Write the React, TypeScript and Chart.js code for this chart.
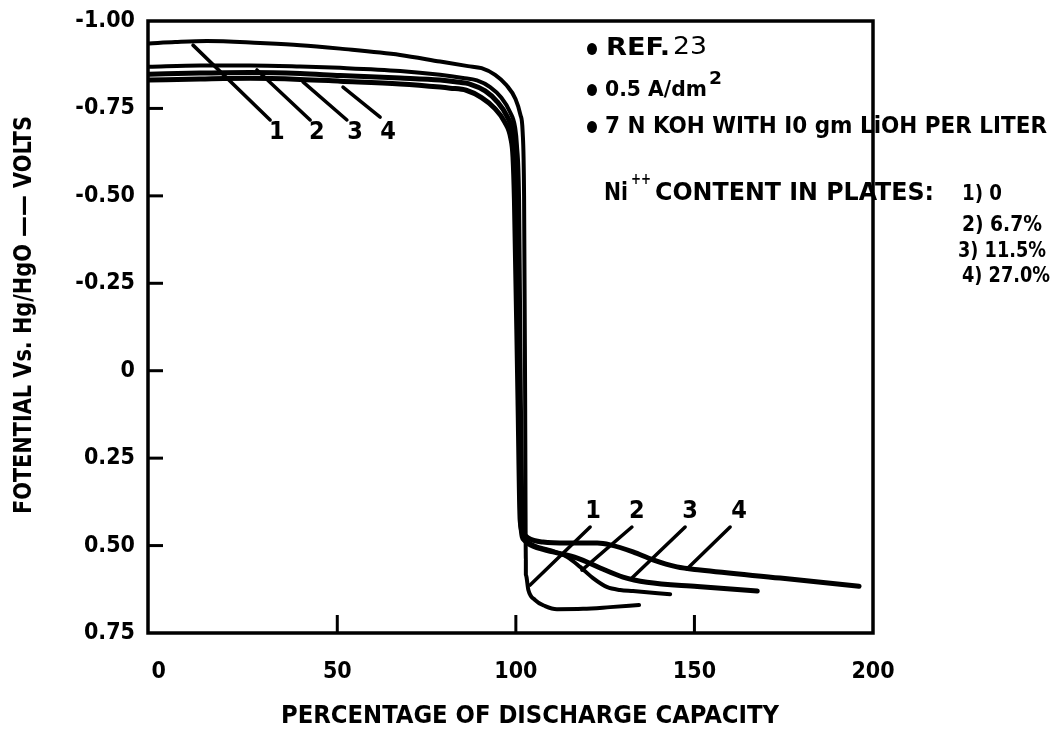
import React, { useEffect, useRef } from 'react';
import { Chart, registerables } from 'chart.js';

Chart.register(...registerables);

// ---------- data ----------
const X_TICKS = [0, 50, 100, 150, 200];
const Y_TICKS = [-1, -0.75, -0.5, -0.25, 0, 0.25, 0.5, 0.75];

// Curve 1 : Ni++ content 0
const curve1X = [-2.7, 4.6, 13.5, 28.4, 39.6, 50.8, 67.6, 78.8, 86.6, 90.4, 94.2, 97.4, 99.9, 101.3, 101.9, 102.3, 102.6, 102.8, 102.8, 103.5, 105.4, 108.2, 111.5, 118.8, 126.4, 134.5];
const curve1Y = [-0.936, -0.94, -0.943, -0.937, -0.931, -0.921, -0.903, -0.884, -0.871, -0.865, -0.846, -0.816, -0.777, -0.731, -0.683, -0.5, 0.084, 0.541, 0.584, 0.627, 0.656, 0.673, 0.682, 0.681, 0.676, 0.67];

// Curve 2 : 6.7 %
const curve2X = [-2.7, 11.6, 25.6, 39.6, 50.8, 67.6, 78.8, 85.2, 89.1, 92.8, 95.9, 98.3, 99.8, 100.3, 100.9, 101.4, 102.0, 102.9, 105.4, 109.6, 114.4, 118, 121.6, 125.6, 129.2, 132.8, 143.2];
const curve2Y = [-0.869, -0.873, -0.873, -0.87, -0.866, -0.857, -0.846, -0.837, -0.83, -0.811, -0.781, -0.741, -0.695, -0.645, -0.488, 0.084, 0.456, 0.487, 0.501, 0.513, 0.533, 0.561, 0.593, 0.619, 0.627, 0.63, 0.639];

// Curve 3 : 11.5 %
const curve3X = [-2.7, 11.6, 25.6, 39.6, 50.8, 67.6, 78.8, 83, 87.3, 91.4, 94.8, 97.5, 99.2, 99.8, 100.2, 100.9, 101.4, 102.3, 104, 110.4, 117.2, 123.6, 130, 136.7, 150.8, 167.6];
const curve3Y = [-0.848, -0.851, -0.853, -0.85, -0.844, -0.837, -0.831, -0.826, -0.819, -0.8, -0.769, -0.728, -0.681, -0.631, -0.488, 0.084, 0.441, 0.484, 0.498, 0.518, 0.536, 0.564, 0.59, 0.605, 0.617, 0.63];

// Curve 4 : 27.0 %
const curve4X = [-2.7, 11.6, 25.6, 39.6, 50.8, 67.6, 78.8, 81.6, 86.1, 90.4, 94, 96.9, 98.6, 99.2, 99.6, 100.6, 101.2, 102, 103.4, 107.6, 114.4, 122.8, 126.4, 132.8, 138.4, 145.1, 151.6, 174, 196.1];
const curve4Y = [-0.831, -0.834, -0.836, -0.833, -0.828, -0.82, -0.811, -0.808, -0.802, -0.781, -0.751, -0.711, -0.664, -0.611, -0.488, 0.084, 0.427, 0.464, 0.478, 0.49, 0.493, 0.493, 0.498, 0.518, 0.541, 0.561, 0.57, 0.593, 0.616];

const curveNames = ['1', '2', '3', '4'];

// leader lines (data coordinates)
const topLeaderStartX = [9.6, 27.5, 40.4, 51.6];
const topLeaderStartY = [-0.931, -0.86, -0.826, -0.811];
const topLeaderEndX = [31.2, 42.4, 52.7, 62];
const topLeaderEndY = [-0.717, -0.717, -0.717, -0.725];
const topLabelX = [33.1, 44.3, 55, 64.2];
const topLabelY = [-0.68, -0.68, -0.68, -0.68];

const botLeaderStartX = [120.8, 132.5, 147.4, 160];
const botLeaderStartY = [0.447, 0.447, 0.447, 0.447];
const botLeaderEndX = [104, 118.5, 132.5, 147.9];
const botLeaderEndY = [0.613, 0.57, 0.593, 0.567];
const botLabelX = [121.6, 133.9, 148.8, 162.5];
const botLabelY = [0.404, 0.404, 0.404, 0.404];

const contentLabels = ['1) 0', '2) 6.7%', '3) 11.5%', '4) 27.0%'];

const FF = "'DejaVu Sans Condensed', 'Liberation Sans Narrow', 'Arial Narrow', 'DejaVu Sans', sans-serif";

function fitText(ctx: CanvasRenderingContext2D, text: string, x: number, y: number, width: number, size: number, weight = 'bold', align: CanvasTextAlign = 'left') {
  ctx.save();
  ctx.font = `${weight} ${size}px ${FF}`;
  const w = ctx.measureText(text).width;
  const sx = width / w;
  ctx.translate(x, y);
  ctx.scale(sx, 1);
  ctx.textAlign = align;
  ctx.textBaseline = 'middle';
  ctx.fillStyle = '#000';
  ctx.fillText(text, 0, 0);
  ctx.restore();
}

function bullet(ctx: CanvasRenderingContext2D, x: number, y: number) {
  ctx.save();
  ctx.fillStyle = '#000';
  ctx.beginPath();
  ctx.ellipse(x, y, 5, 6, 0, 0, Math.PI * 2);
  ctx.fill();
  ctx.restore();
}

const decorPlugin = {
  id: 'decor',
  beforeDatasetsDraw(chart: any) {
    const ctx: CanvasRenderingContext2D = chart.ctx;
    const xs = chart.scales.x;
    const ys = chart.scales.y;
    ctx.save();
    ctx.strokeStyle = '#000';
    ctx.lineWidth = 3.5;
    ctx.lineCap = 'round';
    for (let i = 0; i < 4; i++) {
      ctx.beginPath();
      ctx.moveTo(xs.getPixelForValue(topLeaderStartX[i]), ys.getPixelForValue(topLeaderStartY[i]));
      ctx.lineTo(xs.getPixelForValue(topLeaderEndX[i]), ys.getPixelForValue(topLeaderEndY[i]));
      ctx.stroke();
      ctx.beginPath();
      ctx.moveTo(xs.getPixelForValue(botLeaderStartX[i]), ys.getPixelForValue(botLeaderStartY[i]));
      ctx.lineTo(xs.getPixelForValue(botLeaderEndX[i]), ys.getPixelForValue(botLeaderEndY[i]));
      ctx.stroke();
    }
    ctx.restore();
    ctx.save();
    ctx.fillStyle = '#000';
    ctx.font = `bold 25px ${FF}`;
    ctx.textAlign = 'center';
    ctx.textBaseline = 'middle';
    for (let i = 0; i < 4; i++) {
      ctx.fillText(curveNames[i], xs.getPixelForValue(topLabelX[i]), ys.getPixelForValue(topLabelY[i]));
      ctx.fillText(curveNames[i], xs.getPixelForValue(botLabelX[i]), ys.getPixelForValue(botLabelY[i]));
    }
    ctx.restore();
  },
  afterDatasetsDraw(chart: any) {
    const ctx: CanvasRenderingContext2D = chart.ctx;
    const { left, right, top, bottom } = chart.chartArea;
    const xs = chart.scales.x;
    const ys = chart.scales.y;
    ctx.save();
    ctx.strokeStyle = '#000';
    ctx.lineWidth = 3.5;
    ctx.strokeRect(left, top, right - left, bottom - top);
    ctx.lineWidth = 3;
    Y_TICKS.slice(1, -1).forEach((v) => {
      const y = ys.getPixelForValue(v);
      ctx.beginPath();
      ctx.moveTo(left, y);
      ctx.lineTo(left + 15, y);
      ctx.stroke();
    });
    X_TICKS.slice(1, -1).forEach((v) => {
      const x = xs.getPixelForValue(v);
      ctx.beginPath();
      ctx.moveTo(x, bottom);
      ctx.lineTo(x, bottom - 18);
      ctx.stroke();
    });
    ctx.restore();

    // axis titles
    fitText(ctx, 'PERCENTAGE OF DISCHARGE CAPACITY', 530, 717, 498, 24, 'bold', 'center');
    ctx.save();
    ctx.translate(25, 315);
    ctx.rotate(-Math.PI / 2);
    fitText(ctx, 'FOTENTIAL Vs. Hg/HgO —— VOLTS', 0, 0, 398, 24, 'bold', 'center');
    ctx.restore();

    // notes
    bullet(ctx, 592, 49);
    fitText(ctx, 'REF.', 606, 49, 64, 24, 'bold');
    fitText(ctx, '23', 673, 48, 34, 24, 'normal');
    bullet(ctx, 592, 90);
    fitText(ctx, '0.5 A/dm', 605, 90, 102, 22, 'bold');
    fitText(ctx, '2', 709, 80, 13, 17, 'bold');
    bullet(ctx, 592, 127);
    fitText(ctx, '7 N KOH WITH I0 gm LiOH PER LITER', 605, 127, 442, 23, 'bold');
    fitText(ctx, 'Ni', 604, 194, 24, 24, 'bold');
    fitText(ctx, '++', 631, 180, 20, 16, 'bold');
    fitText(ctx, 'CONTENT IN PLATES:', 655, 194, 279, 24, 'bold');
    const ly = [194, 225, 251, 276];
    const lw = [40, 80, 88, 88];
    contentLabels.forEach((t, i) => fitText(ctx, t, i === 2 ? 958 : 962, ly[i], lw[i], 22, 'bold'));
  },
};

function makeData(xs: number[], ys: number[]) {
  return xs.map((x, i) => ({ x, y: ys[i] }));
}

export default function App() {
  const ref = useRef<HTMLCanvasElement>(null);
  useEffect(() => {
    if (!ref.current) return;
    const common = {
      borderColor: '#000',
      backgroundColor: '#000',
      pointRadius: 0,
      fill: false,
      cubicInterpolationMode: 'monotone' as const,
      borderCapStyle: 'round' as const,
      borderJoinStyle: 'round' as const,
    };
    const chart = new Chart(ref.current, {
      type: 'line',
      data: {
        datasets: [
          { ...common, label: '1', data: makeData(curve1X, curve1Y), borderWidth: 4 },
          { ...common, label: '2', data: makeData(curve2X, curve2Y), borderWidth: 4 },
          { ...common, label: '3', data: makeData(curve3X, curve3Y), borderWidth: 5 },
          { ...common, label: '4', data: makeData(curve4X, curve4Y), borderWidth: 5 },
        ],
      },
      options: {
        animation: false,
        responsive: false,
        devicePixelRatio: 1,
        layout: { padding: { top: 21, right: 188, left: 0, bottom: 0 } },
        plugins: { legend: { display: false }, tooltip: { enabled: false }, title: { display: false } },
        scales: {
          x: {
            type: 'linear',
            min: -3,
            max: 200,
            afterBuildTicks: (s: any) => { s.ticks = X_TICKS.map((v) => ({ value: v })); },
            afterFit: (s: any) => { s.height = 97; },
            grid: { display: false },
            border: { display: false },
            ticks: { color: '#000', font: { family: FF, size: 23, weight: 'bold' }, padding: 17, maxRotation: 0 },
          },
          y: {
            type: 'linear',
            min: -1,
            max: 0.75,
            reverse: true,
            afterBuildTicks: (s: any) => { s.ticks = Y_TICKS.map((v) => ({ value: v })); },
            afterFit: (s: any) => { s.width = 148; },
            grid: { display: false },
            border: { display: false },
            ticks: {
              color: '#000',
              font: { family: FF, size: 23, weight: 'bold' },
              padding: 5,
              callback: (v: any) => (Number(v) === 0 ? '0' : Number(v).toFixed(2)),
            },
          },
        },
      },
      plugins: [decorPlugin],
    } as any);
    return () => chart.destroy();
  }, []);
  return (
    <div style={{ position: 'absolute', left: 0, top: 0, width: 1061, height: 730, background: '#fff' }}>
      <canvas ref={ref} width={1061} height={730} style={{ display: 'block', width: 1061, height: 730 }} />
    </div>
  );
}
